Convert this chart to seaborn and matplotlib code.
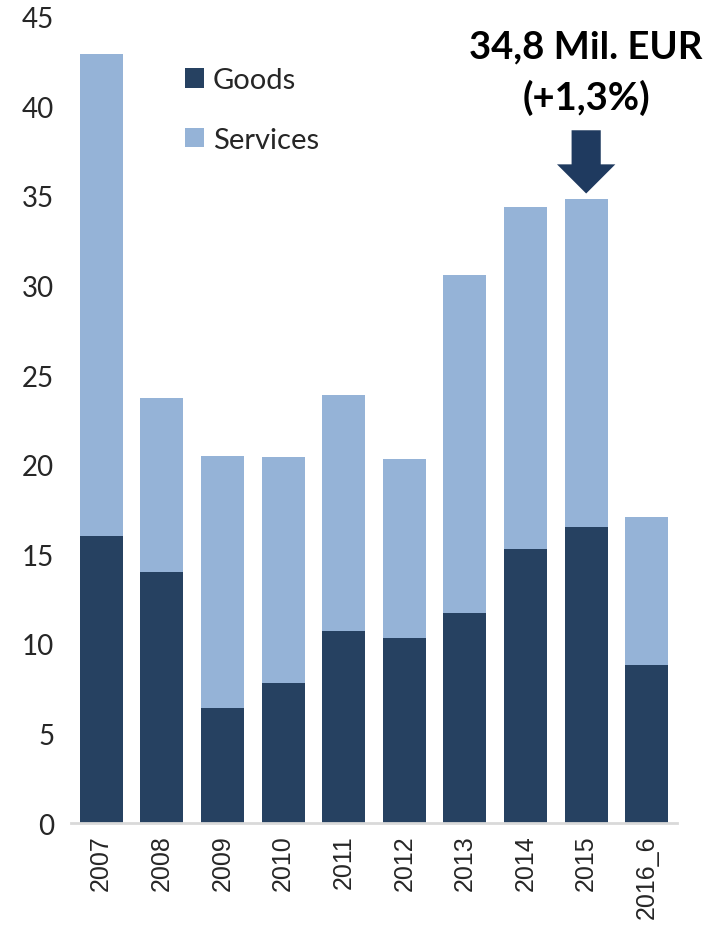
import matplotlib
matplotlib.use("Agg")
import matplotlib.pyplot as plt
import seaborn as sns
import pandas as pd

# dados (Mil. EUR)
anos = ["2007", "2008", "2009", "2010", "2011", "2012", "2013", "2014", "2015", "2016_6"]
goods = [16.0, 14.0, 6.4, 7.8, 10.7, 10.3, 11.7, 15.3, 16.5, 8.8]
services = [26.9, 9.7, 14.1, 12.65, 13.2, 10.0, 18.9, 19.1, 18.3, 8.3]

cor_goods = "#264161"
cor_services = "#95b3d7"
cor_seta = "#1f3a5f"

df = pd.DataFrame({"ano": anos, "Goods": goods, "Services": services})
df["Total"] = df["Goods"] + df["Services"]

sns.set_theme(style="white")
plt.rcParams["font.family"] = ["Lato", "DejaVu Sans"]

fig = plt.figure(figsize=(7.09, 9.29), dpi=100)
ax = fig.add_axes([0.100, 0.113, 0.855, 0.868])

# barras empilhadas: total (services) por baixo, goods por cima
sns.barplot(data=df, x="ano", y="Total", color=cor_services, width=0.71,
            saturation=1, linewidth=0, ax=ax, label="Services")
sns.barplot(data=df, x="ano", y="Goods", color=cor_goods, width=0.71,
            saturation=1, linewidth=0, ax=ax, label="Goods")

ax.set_ylim(0, 45)
ax.set_xlim(-0.5, len(anos) - 0.5)
ax.set_yticks(range(0, 46, 5))
ax.set_xlabel("")
ax.set_ylabel("")
ax.tick_params(axis="y", labelsize=20, length=0, pad=12)
ax.tick_params(axis="x", labelsize=18, length=0, pad=8)
for lbl in ax.get_xticklabels():
    lbl.set_rotation(90)
    lbl.set_family(["Liberation Sans", "DejaVu Sans"])
for s in ["left", "right", "top"]:
    ax.spines[s].set_visible(False)
ax.spines["bottom"].set_color("#d9d9d9")
ax.spines["bottom"].set_linewidth(2)

# legenda
h, l = ax.get_legend_handles_labels()
ordem = [l.index("Goods"), l.index("Services")]
ax.legend([h[i] for i in ordem], [l[i] for i in ordem], loc="upper left",
          bbox_to_anchor=(0.145, 0.97), frameon=False, fontsize=21,
          handlelength=0.65, handleheight=0.65, handletextpad=0.3,
          labelspacing=1.15)

# anotação 2015
i15 = anos.index("2015")
tot15 = df["Total"][i15]
ax.annotate("", xy=(i15, tot15 + 0.33), xytext=(i15, tot15 + 3.86),
            arrowprops=dict(arrowstyle="simple,head_width=3.0,head_length=1.5,tail_width=1.5",
                            color=cor_seta, mutation_scale=14, lw=0,
                            shrinkA=0, shrinkB=0))
ax.text(i15, tot15 + 4.7, f"{tot15:.1f}".replace(".", ",") + " Mil. EUR\n(+1,3%)",
        ha="center", va="bottom", fontsize=27.5, fontweight="bold",
        linespacing=1.5, color="black")

fig.savefig("out.png", dpi=100)
